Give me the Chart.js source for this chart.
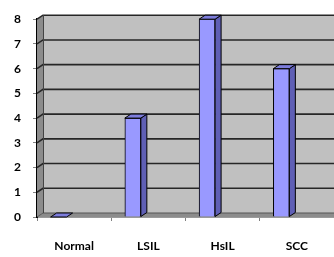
<!DOCTYPE html>
<html>
<head>
<meta charset="utf-8">
<style>
html,body{margin:0;padding:0;background:#fff;}
#c{display:block;}
</style>
<script src="https://cdn.jsdelivr.net/npm/chart.js@4/dist/chart.umd.min.js"></script>
</head>
<body>
<canvas id="c" width="334" height="257"></canvas>
<script>
const categories = ['Normal', 'LSIL', 'HsIL', 'SCC'];
const values = [0, 4, 8, 6];
const yMin = 0, yMax = 8, yStep = 1;

const DX = 6, DY = -4;          // 3D depth offset
const SHIFT = 0.209;            // bars sit left of category centre

const wallPlugin = {
  id: 'wall',
  beforeDatasetsDraw(chart) {
    const {ctx, chartArea: a, scales} = chart;
    const y = scales.y;
    ctx.save();
    // back wall
    ctx.fillStyle = '#c0c0c0';
    ctx.fillRect(a.left + DX, a.top + DY, a.right - a.left + 20, a.bottom - a.top);
    // side wall
    ctx.fillStyle = '#8c8c8c';
    ctx.beginPath();
    ctx.moveTo(a.left, a.bottom);
    ctx.lineTo(a.left, a.top);
    ctx.lineTo(a.left + DX, a.top + DY);
    ctx.lineTo(a.left + DX, a.bottom + DY);
    ctx.closePath();
    ctx.fill();
    // floor
    ctx.fillStyle = '#8c8c8c';
    ctx.beginPath();
    ctx.moveTo(a.left, a.bottom);
    ctx.lineTo(a.left + DX, a.bottom + DY);
    ctx.lineTo(a.right + DX + 20, a.bottom + DY);
    ctx.lineTo(a.right + 20, a.bottom);
    ctx.closePath();
    ctx.fill();
    // gridlines on wall + diagonal connectors on side wall
    ctx.strokeStyle = '#262626';
    ctx.lineWidth = 1.6;
    for (let v = yMin + yStep; v <= yMax; v += yStep) {
      const py = y.getPixelForValue(v);
      ctx.beginPath();
      ctx.moveTo(a.left, py);
      ctx.lineTo(a.left + DX, py + DY);
      ctx.lineTo(a.right + DX + 20, py + DY);
      ctx.stroke();
    }
    // floor back edge
    ctx.strokeStyle = '#555';
    ctx.lineWidth = 1;
    ctx.beginPath();
    ctx.moveTo(a.left, a.bottom);
    ctx.lineTo(a.left + DX, a.bottom + DY);
    ctx.lineTo(a.right + DX + 20, a.bottom + DY);
    ctx.stroke();
    ctx.strokeStyle = '#444';
    ctx.beginPath();
    ctx.moveTo(a.left + DX + 0.5, a.top + DY);
    ctx.lineTo(a.left + DX + 0.5, a.bottom + DY);
    ctx.stroke();
    ctx.restore();
  },
  afterDatasetsDraw(chart) {
    const {ctx} = chart;
    const meta = chart.getDatasetMeta(0);
    ctx.save();
    ctx.strokeStyle = '#000';
    ctx.lineWidth = 1;
    ctx.lineJoin = 'round';
    meta.data.forEach(el => {
      const p = el.getProps(['x', 'y', 'base', 'width'], true);
      const x1 = p.x - p.width / 2, x2 = p.x + p.width / 2;
      const top = Math.min(p.y, p.base), bot = Math.max(p.y, p.base);
      // side face
      if (bot - top > 0.5) {
        ctx.fillStyle = '#5f5fb5';
        ctx.beginPath();
        ctx.moveTo(x2, top);
        ctx.lineTo(x2 + DX, top + DY);
        ctx.lineTo(x2 + DX, bot + DY);
        ctx.lineTo(x2, bot);
        ctx.closePath();
        ctx.fill();
        ctx.stroke();
      }
      // top face
      ctx.fillStyle = '#7d7ddc';
      ctx.beginPath();
      ctx.moveTo(x1, top);
      ctx.lineTo(x1 + DX, top + DY);
      ctx.lineTo(x2 + DX, top + DY);
      ctx.lineTo(x2, top);
      ctx.closePath();
      ctx.fill();
      ctx.stroke();
    });
    ctx.restore();
  }
};

const tickFont = {family: 'Lato, "Open Sans", sans-serif', size: 12, weight: 'bold'};

new Chart(document.getElementById('c'), {
  type: 'bar',
  data: {
    labels: categories,
    datasets: [{
      data: values.map((v, i) => ({x: i, y: v})),
      xAxisID: 'xb',
      yAxisID: 'y',
      backgroundColor: '#9999ff',
      borderColor: '#000',
      borderWidth: 1,
      barThickness: 16
    }]
  },
  options: {
    responsive: false,
    devicePixelRatio: 1,
    animation: false,
    layout: {padding: {top: 14, right: 0, left: 0, bottom: 0}},
    plugins: {legend: {display: false}, tooltip: {enabled: false}},
    scales: {
      x: {
        type: 'category',
        offset: true,
        position: 'bottom',
        grid: {offset: true, drawOnChartArea: false, drawTicks: true, tickLength: 4, color: '#808080'},
        border: {display: true, color: '#9a9a9a', width: 1},
        ticks: {font: tickFont, color: '#000', padding: 18, maxRotation: 0, autoSkip: false},
        afterFit(s) { s.height = 40; }
      },
      xb: {
        type: 'linear',
        display: false,
        offset: false,
        grid: {offset: false},
        min: -0.5 + SHIFT,
        max: 3.5 + SHIFT
      },
      y: {
        min: yMin,
        max: yMax,
        grid: {drawOnChartArea: false, drawTicks: true, tickLength: 4, color: '#808080'},
        border: {display: true, color: '#000', width: 2},
        ticks: {stepSize: yStep, font: tickFont, color: '#000', padding: 12},
        afterFit(s) { s.width = 37; }
      }
    }
  },
  plugins: [wallPlugin]
});
</script>
</body>
</html>
